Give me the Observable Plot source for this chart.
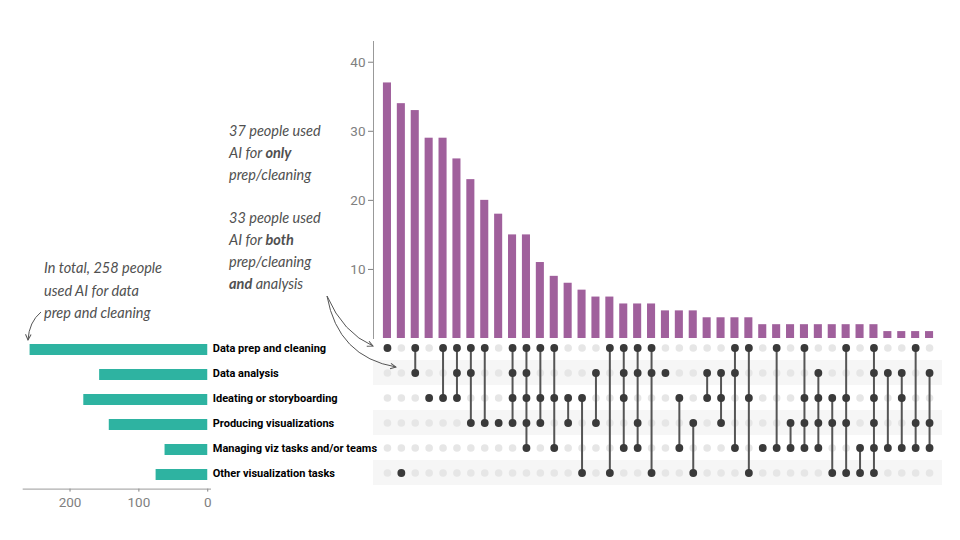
<!DOCTYPE html>
<html><head><meta charset="utf-8">
<script src="https://cdn.jsdelivr.net/npm/d3@7"></script>
<script src="https://cdn.jsdelivr.net/npm/@observablehq/plot@0.6"></script>
<style>
body{margin:0;background:#fff;}
#root{position:relative;width:960px;height:540px;overflow:hidden;font-family:Roboto,sans-serif;}
#root > .p{position:absolute;left:0;}
svg{overflow:visible}
.note{font-family:Lato,sans-serif;font-style:italic;font-size:14.5px;fill:#505050;}
.note .b{font-weight:700;}
</style></head><body><div id="root"></div>
<script>
// ---- data ----
const sets = ["Data prep and cleaning","Data analysis","Ideating or storyboarding","Producing visualizations","Managing viz tasks and/or teams","Other visualization tasks"];
const setSizes = [258,157,180,143,62,75];
const intersectionCounts = [37,34,33,29,29,26,23,20,18,15,15,11,9,8,7,6,6,5,5,5,4,4,4,3,3,3,3,2,2,2,2,2,2,2,2,2,1,1,1,1];
// set numbers (1-6, in the order of `sets`) belonging to each intersection
const intersectionMembers = ["1","6","12","3","13","123","124","14","4","1234","12345","134","135","34","36","24","16","1235","1245","126","2","35","46","23","234","125","136","5","15","45","1345","2345","346","1346","56","123456","25","235","145","245"];
const yTicks = [10,20,30,40];
const xTicks = [0,100,200];

const purple = "#a0609c", teal = "#2eb3a1";
const cols = d3.range(intersectionCounts.length);
const bars = cols.map(i => ({i, count: intersectionCounts[i]}));
const cells = cols.flatMap(i => sets.map((s,k) => ({i, set: s, on: intersectionMembers[i].includes(String(k+1))})));
const links = cols.map(i => {
  const ks = intersectionMembers[i].split("").map(Number);
  return {i, a: sets[d3.min(ks)-1], b: sets[d3.max(ks)-1]};
}).filter(d => d.a !== d.b);
const stripes = sets.filter((s,k) => k % 2 === 1);
const setRows = sets.map((s,k) => ({set: s, size: setSizes[k]}));

const style = {fontFamily: "Roboto, sans-serif", fontSize: "13px", background: "transparent", overflow: "visible"};
const root = document.getElementById("root");
function place(el, top){ const d = document.createElement("div"); d.className = "p"; d.style.top = top + "px"; d.appendChild(el); root.appendChild(d); }

const topChart = Plot.plot({
  width: 960, height: 345, marginLeft: 373, marginRight: 24, marginTop: 41, marginBottom: 7, style,
  x: {type: "band", domain: cols, paddingInner: 0.42, paddingOuter: 0.21, insetLeft: 7, axis: null},
  y: {domain: [0, 43]},
  marks: [
    Plot.barY(bars, {x: "i", y: "count", fill: purple}),
    Plot.axisY({ticks: yTicks, tickSize: 5, tickPadding: 3, color: "#808080", label: null, fontSize: 13.5}),
    Plot.frame({anchor: "left", stroke: "#999"})
  ]
});
place(topChart, 0);

const matrix = Plot.plot({
  width: 960, height: 170, marginLeft: 373, marginRight: 18, marginTop: 8.2, marginBottom: 8.2, style,
  x: {type: "band", domain: cols, paddingInner: 0.42, paddingOuter: 0.21, insetLeft: 7, insetRight: 6, axis: null},
  y: {type: "band", domain: sets, padding: 0, axis: null},
  marks: [
    Plot.cell(stripes, {y: d => d, fill: "#f6f6f6"}),
    Plot.dot(cells, {x: "i", y: "set", r: 3.8, fill: "#e6e6e6"}),
    Plot.link(links, {x1: "i", x2: "i", y1: "a", y2: "b", stroke: "#555", strokeWidth: 2}),
    Plot.dot(cells.filter(d => d.on), {x: "i", y: "set", r: 3.9, fill: "#3a3a3a"})
  ]
});
place(matrix, 325);

const left = Plot.plot({
  width: 380, height: 200, marginLeft: 22.7, marginRight: 170, marginTop: 10.2, marginBottom: 36.4, style,
  x: {domain: [268, -4]},
  y: {type: "band", domain: sets, paddingInner: 0.57, paddingOuter: 0.285, axis: null},
  marks: [
    Plot.barX(setRows, {x: "size", y: "set", fill: teal}),
    Plot.text(sets, {x: 0, y: d => d, text: d => d, dx: 5, dy: -1.5, textAnchor: "start", fontWeight: "bold", fontSize: 11, fill: "#000"}),
    Plot.axisX({ticks: xTicks, tickSize: 3, tickPadding: 5, color: "#808080", fontSize: 13.5, label: null}),
    Plot.frame({anchor: "bottom", stroke: "#999"})
  ]
});
place(left, 325);

// ---- annotations ----
const ns = "http://www.w3.org/2000/svg";
const ov = document.createElementNS(ns, "svg");
ov.setAttribute("width", 960); ov.setAttribute("height", 540);
ov.style.position = "absolute"; ov.style.left = "0"; ov.style.top = "0"; ov.style.pointerEvents = "none";
ov.innerHTML = `
<defs><marker id="ah" viewBox="0 0 10 10" refX="9" refY="5" markerWidth="7" markerHeight="7" orient="auto-start-reverse">
<path d="M1,1 L9,5 L1,9" fill="none" stroke="#555" stroke-width="1.4"/></marker></defs>
<g class="note">
<text x="229" y="136">37 people used</text>
<text x="229" y="158">AI for <tspan class="b">only</tspan></text>
<text x="229" y="180">prep/cleaning</text>
<text x="229" y="223">33 people used</text>
<text x="229" y="245">AI for <tspan class="b">both</tspan></text>
<text x="229" y="267">prep/cleaning</text>
<text x="229" y="289"><tspan class="b">and</tspan> analysis</text>
<text x="44" y="273">In total, 258 people</text>
<text x="44" y="296">used AI for data</text>
<text x="44" y="318">prep and cleaning</text>
</g>
<g fill="none" stroke="#555" stroke-width="1">
<path d="M327,296 Q343,333 373,346" marker-end="url(#ah)"/>
<path d="M327,296 Q338,357 396,367" marker-end="url(#ah)"/>
<path d="M41,312 Q29,322 28,340" marker-end="url(#ah)"/>
</g>`;
root.appendChild(ov);
</script></body></html>
